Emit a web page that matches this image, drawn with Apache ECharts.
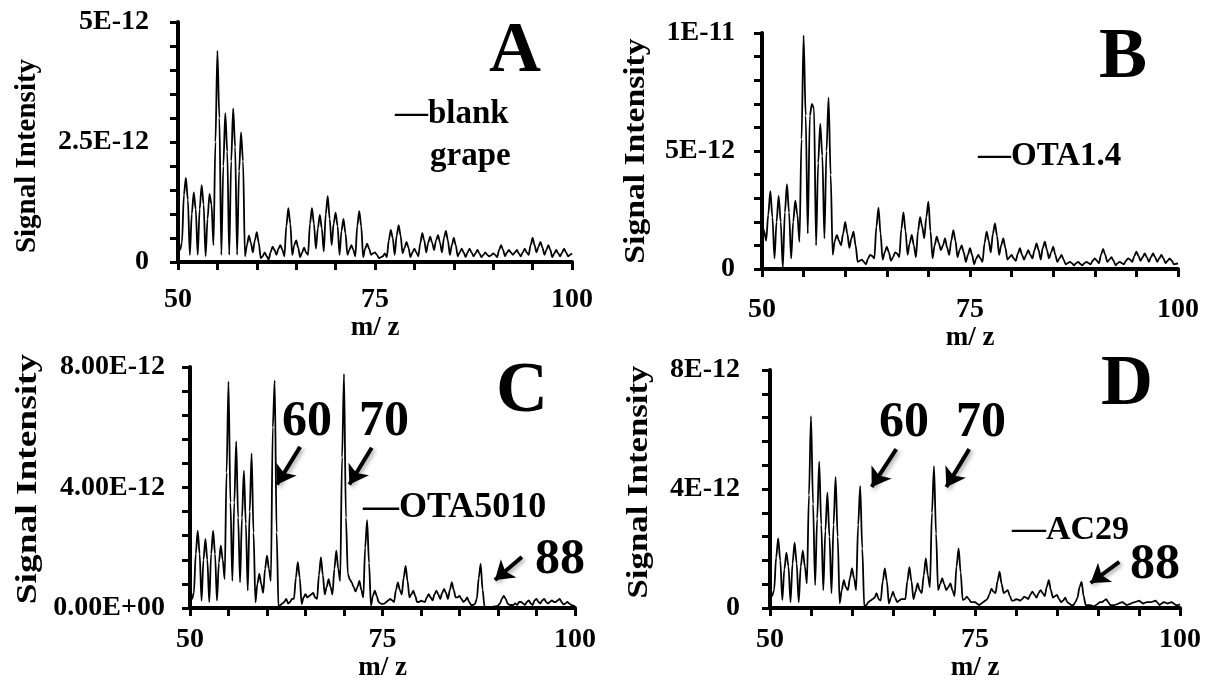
<!DOCTYPE html>
<html>
<head>
<meta charset="utf-8">
<title>Signal intensity vs m/z</title>
<script src="https://cdn.jsdelivr.net/npm/echarts@6/dist/echarts.min.js"></script>
<style>
  html, body { margin: 0; padding: 0; background: #fff; }
  #main { width: 1215px; height: 689px; }
</style>
</head>
<body>
<div id="main"></div>
<script>
// m/z grid, one reading every 0.25
var mz = []
for (var m = 50; m <= 100; m += 0.25) mz.push(m)

// signal intensity in units of 1E-12, one row per unit of m/z (n, n.25, n.5, n.75)
var blankGrape = [
  0.2, 0.25, 0.4, 1.4,
  1.75, 1.3, 0.15, 1.0,
  1.45, 1.1, 0.15, 1.1,
  1.6, 1.2, 0.12, 0.9,
  1.42, 1.2, 0.35, 2.5,
  4.4, 3.0, 0.15, 2.0,
  3.1, 2.3, 0.15, 2.1,
  3.2, 2.4, 0.15, 1.9,
  2.7, 2.1, 0.12, 0.35,
  0.55, 0.4, 0.2, 0.45,
  0.62, 0.4, 0.08, 0.12,
  0.2, 0.12, 0.05, 0.2,
  0.32, 0.25, 0.15, 0.28,
  0.35, 0.25, 0.12, 0.75,
  1.12, 0.8, 0.15, 0.35,
  0.45, 0.3, 0.1, 0.2,
  0.3, 0.2, 0.15, 0.8,
  1.12, 0.8, 0.28, 0.7,
  0.98, 0.7, 0.22, 1.0,
  1.37, 0.9, 0.35, 0.8,
  1.03, 0.75, 0.15, 0.65,
  0.9, 0.6, 0.15, 0.25,
  0.35, 0.25, 0.12, 0.75,
  1.06, 0.75, 0.1, 0.28,
  0.38, 0.28, 0.15, 0.18,
  0.2, 0.15, 0.08, 0.1,
  0.12, 0.18, 0.1, 0.45,
  0.67, 0.5, 0.15, 0.55,
  0.77, 0.55, 0.18, 0.3,
  0.42, 0.3, 0.1, 0.2,
  0.28, 0.2, 0.12, 0.4,
  0.6, 0.45, 0.2, 0.4,
  0.53, 0.4, 0.25, 0.45,
  0.56, 0.4, 0.2, 0.5,
  0.65, 0.45, 0.15, 0.35,
  0.5, 0.35, 0.12, 0.2,
  0.28, 0.2, 0.1, 0.2,
  0.28, 0.2, 0.12, 0.18,
  0.25, 0.18, 0.1, 0.15,
  0.2, 0.15, 0.12, 0.14,
  0.18, 0.15, 0.1, 0.25,
  0.35, 0.25, 0.12, 0.2,
  0.25, 0.2, 0.15, 0.2,
  0.25, 0.18, 0.12, 0.2,
  0.28, 0.2, 0.15, 0.35,
  0.5, 0.35, 0.2, 0.32,
  0.42, 0.3, 0.15, 0.25,
  0.35, 0.25, 0.1, 0.18,
  0.25, 0.18, 0.12, 0.2,
  0.28, 0.2, 0.12, 0.15,
  0.18]
var ota14 = [
  2.0, 1.6, 1.2, 2.3,
  3.3, 2.2, 0.45, 2.0,
  3.1, 2.0, 0.05, 2.4,
  3.6, 2.4, 0.45, 2.0,
  2.9, 2.3, 1.15, 5.5,
  9.9, 6.5, 1.5, 6.5,
  7.0, 6.8, 1.0, 4.5,
  6.15, 4.8, 1.3, 5.0,
  7.26, 4.0, 0.6, 1.2,
  1.45, 1.2, 1.0, 1.5,
  2.0, 1.5, 0.9, 1.3,
  1.58, 1.0, 0.3, 0.35,
  0.4, 0.3, 0.2, 0.45,
  0.6, 0.55, 0.45, 1.8,
  2.6, 1.5, 0.4, 0.7,
  0.95, 0.7, 0.35, 0.5,
  0.7, 0.65, 0.5, 1.7,
  2.4, 1.6, 0.6, 1.1,
  1.44, 1.0, 0.5, 1.6,
  2.2, 1.8, 1.3, 2.2,
  2.85, 1.6, 0.45, 1.0,
  1.37, 1.1, 0.8, 1.0,
  1.3, 0.9, 0.6, 1.2,
  1.65, 1.2, 0.5, 0.8,
  1.0, 0.7, 0.3, 0.6,
  0.88, 0.6, 0.2, 0.45,
  0.6, 0.45, 0.3, 1.1,
  1.58, 1.2, 0.7, 1.5,
  1.93, 1.4, 0.6, 1.0,
  1.3, 0.9, 0.4, 0.5,
  0.6, 0.45, 0.35, 0.65,
  0.88, 0.6, 0.4, 0.6,
  0.8, 0.6, 0.45, 0.8,
  1.09, 0.8, 0.4, 0.9,
  1.16, 0.8, 0.45, 0.7,
  0.95, 0.6, 0.3, 0.45,
  0.6, 0.4, 0.2, 0.25,
  0.3, 0.25, 0.15, 0.25,
  0.3, 0.22, 0.15, 0.25,
  0.3, 0.25, 0.2, 0.35,
  0.45, 0.35, 0.25, 0.6,
  0.85, 0.6, 0.3, 0.4,
  0.5, 0.35, 0.15, 0.25,
  0.3, 0.25, 0.2, 0.35,
  0.45, 0.4, 0.3, 0.55,
  0.73, 0.55, 0.35, 0.5,
  0.66, 0.5, 0.3, 0.5,
  0.66, 0.5, 0.3, 0.45,
  0.6, 0.45, 0.25, 0.35,
  0.45, 0.35, 0.2, 0.22,
  0.24]
var ota5010 = [
  0.45, 0.3, 0.5, 1.8,
  2.57, 1.8, 0.24, 1.6,
  2.29, 1.6, 0.2, 1.8,
  2.57, 1.8, 0.25, 1.5,
  2.07, 1.6, 0.96, 4.5,
  7.52, 3.5, 0.9, 3.5,
  5.53, 3.0, 0.85, 3.0,
  4.56, 2.8, 0.58, 3.2,
  5.13, 2.5, 0.19, 0.8,
  1.13, 0.8, 0.5, 1.3,
  1.74, 1.3, 0.9, 6.0,
  7.55, 2.5, 0.0, 0.1,
  0.15, 0.2, 0.3, 0.15,
  0.2, 0.3, 0.3, 1.0,
  1.52, 1.0, 0.13, 0.35,
  0.46, 0.35, 0.4, 0.45,
  0.5, 0.35, 0.3, 1.1,
  1.68, 1.1, 0.45, 0.7,
  0.96, 0.7, 0.45, 1.3,
  1.9, 1.3, 0.9, 5.0,
  7.77, 3.0, 1.13, 0.95,
  0.85, 0.7, 0.55, 0.7,
  0.9, 0.6, 0.35, 2.0,
  2.92, 1.5, 0.08, 0.4,
  0.58, 0.4, 0.2, 0.15,
  0.13, 0.15, 0.2, 0.25,
  0.3, 0.25, 0.2, 0.6,
  0.85, 0.6, 0.45, 1.0,
  1.4, 0.9, 0.35, 0.45,
  0.58, 0.4, 0.2, 0.2,
  0.24, 0.22, 0.2, 0.35,
  0.46, 0.35, 0.25, 0.45,
  0.58, 0.45, 0.3, 0.5,
  0.63, 0.5, 0.3, 0.6,
  0.85, 0.6, 0.35, 0.35,
  0.4, 0.3, 0.2, 0.25,
  0.35, 0.2, 0.1, 0.1,
  0.13, 0.3, 1.0, 1.46,
  0.6, 0.05, 0.03, 0.02,
  0.02, 0.03, 0.05, 0.05,
  0.08, 0.15, 0.3, 0.4,
  0.3, 0.15, 0.1, 0.1,
  0.1, 0.15, 0.1, 0.2,
  0.2, 0.15, 0.1, 0.2,
  0.25, 0.15, 0.1, 0.25,
  0.3, 0.2, 0.15, 0.25,
  0.3, 0.2, 0.15, 0.2,
  0.25, 0.2, 0.2, 0.25,
  0.3, 0.2, 0.12, 0.15,
  0.2, 0.15, 0.1, 0.08,
  0.05]
var ac29 = [
  0.5, 0.4, 0.6, 1.7,
  2.34, 1.6, 0.27, 1.3,
  1.86, 1.4, 0.2, 1.5,
  2.2, 1.5, 0.2, 1.4,
  1.93, 1.4, 0.83, 3.8,
  6.45, 3.5, 0.77, 3.0,
  4.92, 2.8, 0.6, 2.6,
  3.88, 2.4, 0.5, 2.8,
  4.41, 2.4, 0.16, 0.6,
  0.94, 0.7, 0.6, 1.0,
  1.33, 1.0, 0.6, 2.8,
  4.1, 2.0, 0.04, 0.1,
  0.2, 0.25, 0.3, 0.35,
  0.5, 0.3, 0.25, 0.9,
  1.33, 0.9, 0.15, 0.35,
  0.55, 0.35, 0.2, 0.25,
  0.3, 0.3, 0.3, 0.9,
  1.37, 0.9, 0.3, 0.55,
  0.83, 0.6, 0.5, 1.1,
  1.67, 1.1, 0.7, 3.2,
  4.77, 2.5, 0.6, 0.8,
  1.0, 0.8, 0.6, 0.7,
  0.83, 0.6, 0.4, 1.4,
  2.0, 1.2, 0.27, 0.3,
  0.38, 0.3, 0.2, 0.2,
  0.2, 0.15, 0.1, 0.15,
  0.2, 0.25, 0.3, 0.45,
  0.65, 0.55, 0.5, 0.9,
  1.22, 0.8, 0.5, 0.55,
  0.6, 0.4, 0.25, 0.25,
  0.3, 0.28, 0.25, 0.3,
  0.38, 0.35, 0.3, 0.45,
  0.55, 0.45, 0.35, 0.5,
  0.6, 0.5, 0.4, 0.7,
  0.94, 0.6, 0.35, 0.4,
  0.44, 0.3, 0.2, 0.25,
  0.35, 0.2, 0.15, 0.1,
  0.1, 0.2, 0.35, 0.7,
  0.88, 0.4, 0.1, 0.1,
  0.1, 0.08, 0.05, 0.1,
  0.15, 0.2, 0.2, 0.25,
  0.3, 0.2, 0.1, 0.1,
  0.1, 0.12, 0.15, 0.18,
  0.2, 0.15, 0.1, 0.12,
  0.15, 0.18, 0.2, 0.22,
  0.25, 0.2, 0.15, 0.18,
  0.2, 0.2, 0.2, 0.22,
  0.25, 0.18, 0.1, 0.15,
  0.2, 0.18, 0.15, 0.18,
  0.2, 0.15, 0.1, 0.1,
  0.12]

// tick labels that are written out (others are blank)
var xTicks = [50, 75, 100]
var yTicksA = [0, 2.5, 5]
var yLabelsA = ['0', '2.5E-12', '5E-12']
var yTicksB = [0, 5, 10]
var yLabelsB = ['0', '5E-12', '1E-11']
var yTicksC = [0, 4, 8]
var yLabelsC = ['0.00E+00', '4.00E-12', '8.00E-12']
var yTicksD = [0, 4, 8]
var yLabelsD = ['0', '4E-12', '8E-12']

// peak arrows [fromMz, fromY, toMz, toY]
var arrowsC = [[64.3, 5.35, 61.3, 4.1], [73.6, 5.32, 70.7, 4.1], [93.1, 1.69, 89.6, 0.93]]
var arrowsD = [[65.4, 5.34, 62.4, 4.07], [74.3, 5.34, 71.5, 4.07], [92.6, 1.55, 89.1, 0.84]]

var FONT = 'Liberation Serif'

var panels = [
  { name: 'blank grape', data: blankGrape, grid: { left: 178, top: 22, width: 394, height: 240 },
    max: 5, interval: 0.5, yt: yTicksA, yl: yLabelsA, ylMargin: 29, xlMargin: 24, nameGap: 49 },
  { name: 'OTA1.4', data: ota14, grid: { left: 762, top: 33, width: 416, height: 236 },
    max: 10, interval: 1, yt: yTicksB, yl: yLabelsB, ylMargin: 27, xlMargin: 27, nameGap: 48 },
  { name: 'OTA5010', data: ota5010, grid: { left: 190, top: 367, width: 385, height: 241 },
    max: 8, interval: 0.8, yt: yTicksC, yl: yLabelsC, ylMargin: 25, xlMargin: 18, nameGap: 41 },
  { name: 'AC29', data: ac29, grid: { left: 770, top: 370, width: 410, height: 238 },
    max: 8, interval: 0.8, yt: yTicksD, yl: yLabelsD, ylMargin: 30, xlMargin: 18, nameGap: 41 }
]

function pickLabel (ticks, labels) {
  return function (v) {
    for (var i = 0; i < ticks.length; i++) {
      if (Math.abs(v - ticks[i]) < 1e-6) return labels[i]
    }
    return ''
  }
}

function arrowLines (arr) {
  return arr.map(function (a) {
    return [{ coord: [a[0], a[1]] }, { coord: [a[2], a[3]] }]
  })
}

var grids = []
var xAxes = []
var yAxes = []
var series = []

panels.forEach(function (p, i) {
  grids.push(p.grid)
  xAxes.push({
    type: 'value',
    gridIndex: i,
    min: 50,
    max: 100,
    interval: 5,
    name: 'm/ z',
    nameLocation: 'middle',
    nameGap: p.nameGap,
    nameTextStyle: { color: '#000', fontFamily: FONT, fontWeight: 'bold', fontSize: 27 },
    axisLine: { onZero: false, lineStyle: { color: '#000', width: 4 } },
    axisTick: { show: true, length: 8, lineStyle: { color: '#000', width: 3 } },
    splitLine: { show: false },
    axisLabel: {
      color: '#000', fontFamily: FONT, fontWeight: 'bold', fontSize: 28, margin: p.xlMargin,
      formatter: pickLabel(xTicks, ['50', '75', '100'])
    }
  })
  yAxes.push({
    type: 'value',
    gridIndex: i,
    min: 0,
    max: p.max,
    interval: p.interval,
    axisLine: { show: true, lineStyle: { color: '#000', width: 4 } },
    axisTick: { show: true, length: 8, lineStyle: { color: '#000', width: 3 } },
    splitLine: { show: false },
    axisLabel: {
      color: '#000', fontFamily: FONT, fontWeight: 'bold', fontSize: 28, margin: p.ylMargin,
      formatter: pickLabel(p.yt, p.yl)
    }
  })
  var s = {
    name: p.name,
    type: 'line',
    xAxisIndex: i,
    yAxisIndex: i,
    showSymbol: false,
    smooth: 0.3,
    smoothMonotone: 'x',
    lineStyle: { color: '#000', width: 1.8 },
    data: mz.map(function (x, k) { return [x, p.data[k]] })
  }
  var arr = i === 2 ? arrowsC : (i === 3 ? arrowsD : null)
  if (arr) {
    s.markLine = {
      silent: true,
      symbol: ['none', 'arrow'],
      symbolSize: 18,
      label: { show: false },
      lineStyle: { color: '#000', width: 4, type: 'solid',
        shadowColor: 'rgba(0,0,0,0.35)', shadowBlur: 4, shadowOffsetX: 2, shadowOffsetY: 2 },
      data: arrowLines(arr)
    }
  }
  series.push(s)
})

function txt (text, x, y, size, align, extra) {
  var el = {
    type: 'text',
    x: x,
    y: y,
    style: {
      text: text,
      fill: '#000',
      fontFamily: FONT,
      fontWeight: 'bold',
      fontSize: size,
      textAlign: align || 'center',
      textVerticalAlign: 'middle'
    }
  }
  if (extra) Object.assign(el, extra)
  return el
}

var vert = { rotation: Math.PI / 2 }

var graphics = [
  // panel letters
  txt('A', 515, 52, 72),
  txt('B', 1123, 58, 72),
  txt('C', 522, 392, 72),
  txt('D', 1127, 385, 72),
  // legends
  txt('\u2014blank', 395, 114, 33, 'left'),
  txt('grape', 430, 156, 33, 'left'),
  txt('\u2014OTA1.4', 978, 156, 33, 'left'),
  txt('\u2014OTA5010', 363, 508, 36, 'left'),
  txt('\u2014AC29', 1012, 530, 34, 'left'),
  // peak labels
  txt('60', 307, 422, 50),
  txt('70', 384, 422, 50),
  txt('88', 560, 560, 50),
  txt('60', 904, 423, 50),
  txt('70', 981, 423, 50),
  txt('88', 1155, 565, 50),
  // y axis titles
  txt('Signal Intensity', 28, 156, 29, 'center', Object.assign({ scaleX: 1.0 }, vert)),
  txt('Signal Intensity', 637, 151, 29, 'center', Object.assign({ scaleX: 1.16 }, vert)),
  txt('Signal Intensity', 29, 479, 29, 'center', Object.assign({ scaleX: 1.29 }, vert)),
  txt('Signal Intensity', 640, 482, 29, 'center', Object.assign({ scaleX: 1.2 }, vert))
]

var chart = echarts.init(document.getElementById('main'))
chart.setOption({
  animation: false,
  backgroundColor: '#fff',
  grid: grids,
  xAxis: xAxes,
  yAxis: yAxes,
  series: series,
  graphic: graphics
})
window.addEventListener('resize', function () {
  chart.resize()
})
</script>
</body>
</html>
